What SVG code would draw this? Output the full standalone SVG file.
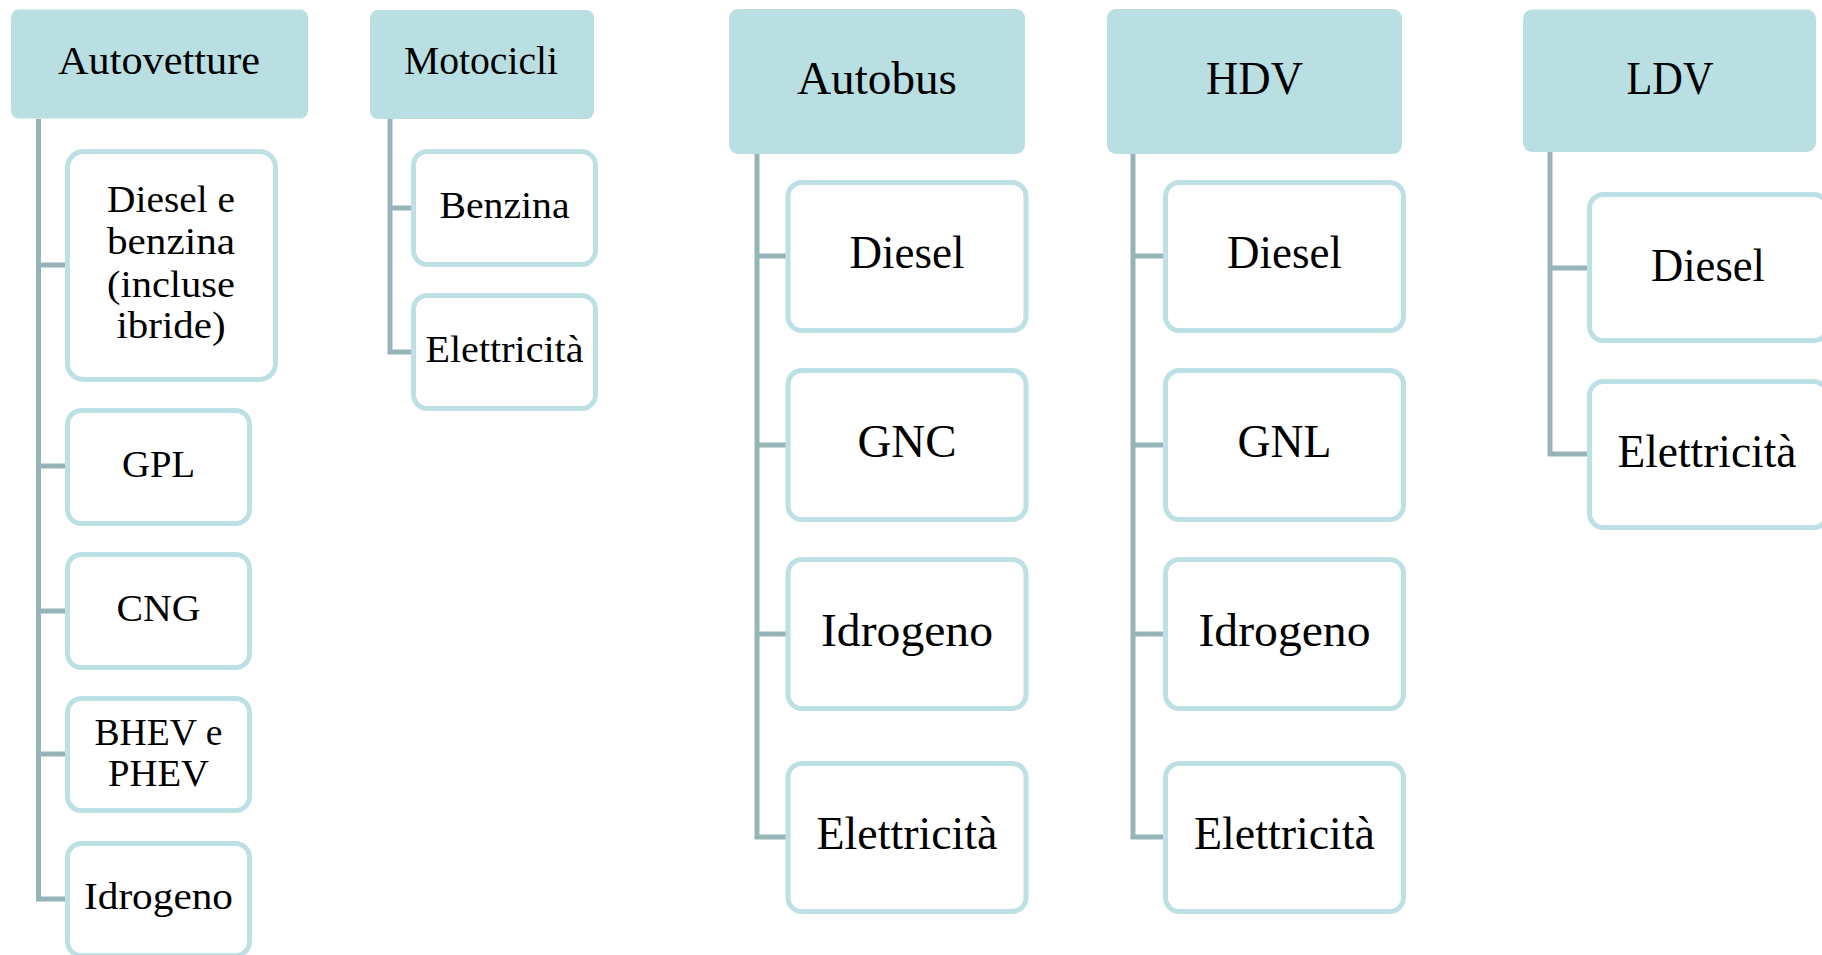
<svg xmlns="http://www.w3.org/2000/svg" width="1822" height="955" viewBox="0 0 1822 955">
<style>
.hdr{fill:#badfe3;stroke:none}
.box{fill:#ffffff;stroke:#bde0e4;stroke-width:5}
.con{fill:none;stroke:#96b3b7;stroke-width:5;stroke-linejoin:miter;stroke-linecap:butt}
text{font-family:"Liberation Serif","DejaVu Serif",serif;fill:#000;text-anchor:middle}
.h1{font-size:39px}
.h2{font-size:46px}
.c1{font-size:37px}
.c2{font-size:46px}
</style>
<rect width="1822" height="955" fill="#ffffff"/>
<g id="connectors">
<path class="con" d="M38.5,119 V899 H65 M38.5,265 H65 M38.5,466 H65 M38.5,611 H65 M38.5,754 H65"/>
<path class="con" d="M390,119 V352 H411 M390,208 H411"/>
<path class="con" d="M757,154 V837 H786 M757,256 H786 M757,445 H786 M757,634 H786"/>
<path class="con" d="M1133,154 V837 H1163 M1133,256 H1163 M1133,445 H1163 M1133,634 H1163"/>
<path class="con" d="M1550,152 V454 H1587 M1550,268 H1587"/>
</g>
<g id="autovetture">
<rect class="hdr" x="11" y="9.5" width="297" height="109" rx="8"/>
<text class="h1" x="159" y="74" textLength="202" lengthAdjust="spacingAndGlyphs">Autovetture</text>
</g>
<g id="auto-diesel-benzina">
<rect class="box" x="67.5" y="151.5" width="208" height="228" rx="16"/>
<text class="c1" x="171" y="212" textLength="128" lengthAdjust="spacingAndGlyphs">Diesel e</text>
<text class="c1" x="171" y="254" textLength="128" lengthAdjust="spacingAndGlyphs">benzina</text>
<text class="c1" x="171" y="296.5" textLength="128" lengthAdjust="spacingAndGlyphs">(incluse</text>
<text class="c1" x="171" y="338" textLength="109" lengthAdjust="spacingAndGlyphs">ibride)</text>
</g>
<g id="auto-gpl">
<rect class="box" x="67.5" y="410.5" width="182" height="113" rx="14"/>
<text class="c1" x="158.5" y="477" textLength="73" lengthAdjust="spacingAndGlyphs">GPL</text>
</g>
<g id="auto-cng">
<rect class="box" x="67.5" y="554.5" width="182" height="113" rx="14"/>
<text class="c1" x="158.5" y="621" textLength="84" lengthAdjust="spacingAndGlyphs">CNG</text>
</g>
<g id="auto-bhev">
<rect class="box" x="67.5" y="698.5" width="182" height="112" rx="14"/>
<text class="c1" x="158.5" y="745" textLength="128" lengthAdjust="spacingAndGlyphs">BHEV e</text>
<text class="c1" x="158.5" y="786" textLength="101" lengthAdjust="spacingAndGlyphs">PHEV</text>
</g>
<g id="auto-idrogeno">
<rect class="box" x="67.5" y="843.5" width="182" height="112" rx="14"/>
<text class="c1" x="158.5" y="909" textLength="149" lengthAdjust="spacingAndGlyphs">Idrogeno</text>
</g>
<g id="motocicli">
<rect class="hdr" x="370" y="10" width="224" height="109" rx="8"/>
<text class="h1" x="481" y="74" textLength="154" lengthAdjust="spacingAndGlyphs">Motocicli</text>
</g>
<g id="moto-benzina">
<rect class="box" x="413.5" y="151.5" width="182" height="113" rx="14"/>
<text class="c1" x="504.5" y="218" textLength="130" lengthAdjust="spacingAndGlyphs">Benzina</text>
</g>
<g id="moto-elettricita">
<rect class="box" x="413.5" y="295.5" width="182" height="113" rx="14"/>
<text class="c1" x="504.5" y="362" textLength="158" lengthAdjust="spacingAndGlyphs">Elettricità</text>
</g>
<g id="autobus">
<rect class="hdr" x="729" y="9" width="296" height="145" rx="9"/>
<text class="h2" x="877" y="94" textLength="160" lengthAdjust="spacingAndGlyphs">Autobus</text>
</g>
<g id="bus-diesel">
<rect class="box" x="788" y="182.5" width="238" height="148" rx="14"/>
<text class="c2" x="907" y="268" textLength="115" lengthAdjust="spacingAndGlyphs">Diesel</text>
</g>
<g id="bus-gnc">
<rect class="box" x="788" y="370.5" width="238" height="149" rx="14"/>
<text class="c2" x="907" y="457" textLength="99" lengthAdjust="spacingAndGlyphs">GNC</text>
</g>
<g id="bus-idrogeno">
<rect class="box" x="788" y="559.5" width="238" height="149" rx="14"/>
<text class="c2" x="907" y="646" textLength="172" lengthAdjust="spacingAndGlyphs">Idrogeno</text>
</g>
<g id="bus-elettricita">
<rect class="box" x="788" y="763.5" width="238" height="148" rx="14"/>
<text class="c2" x="907" y="849" textLength="181" lengthAdjust="spacingAndGlyphs">Elettricità</text>
</g>
<g id="hdv">
<rect class="hdr" x="1107" y="9" width="295" height="145" rx="9"/>
<text class="h2" x="1254.5" y="94" textLength="97" lengthAdjust="spacingAndGlyphs">HDV</text>
</g>
<g id="hdv-diesel">
<rect class="box" x="1165.5" y="182.5" width="238" height="148" rx="14"/>
<text class="c2" x="1284.5" y="268" textLength="115" lengthAdjust="spacingAndGlyphs">Diesel</text>
</g>
<g id="hdv-gnl">
<rect class="box" x="1165.5" y="370.5" width="238" height="149" rx="14"/>
<text class="c2" x="1284.5" y="457" textLength="94" lengthAdjust="spacingAndGlyphs">GNL</text>
</g>
<g id="hdv-idrogeno">
<rect class="box" x="1165.5" y="559.5" width="238" height="149" rx="14"/>
<text class="c2" x="1284.5" y="646" textLength="172" lengthAdjust="spacingAndGlyphs">Idrogeno</text>
</g>
<g id="hdv-elettricita">
<rect class="box" x="1165.5" y="763.5" width="238" height="148" rx="14"/>
<text class="c2" x="1284.5" y="849" textLength="181" lengthAdjust="spacingAndGlyphs">Elettricità</text>
</g>
<g id="ldv">
<rect class="hdr" x="1523" y="9.5" width="293" height="142.5" rx="9"/>
<text class="h2" x="1670" y="94" textLength="87" lengthAdjust="spacingAndGlyphs">LDV</text>
</g>
<g id="ldv-diesel">
<rect class="box" x="1589.5" y="194.5" width="238" height="146" rx="14"/>
<text class="c2" x="1708" y="280.5" textLength="114" lengthAdjust="spacingAndGlyphs">Diesel</text>
</g>
<g id="ldv-elettricita">
<rect class="box" x="1589.5" y="381.5" width="238" height="146" rx="14"/>
<text class="c2" x="1707" y="466.5" textLength="179" lengthAdjust="spacingAndGlyphs">Elettricità</text>
</g>
</svg>
